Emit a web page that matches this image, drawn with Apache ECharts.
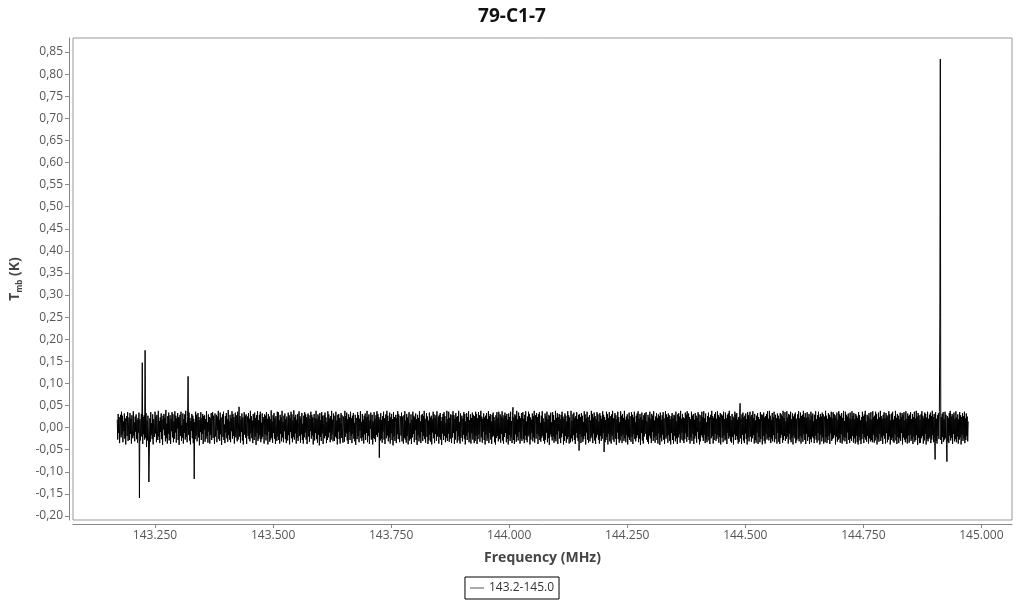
<!DOCTYPE html>
<html><head><meta charset="utf-8">
<script src="https://cdn.jsdelivr.net/npm/echarts@6/dist/echarts.min.js"></script>
<style>html,body{margin:0;padding:0;background:#fff}#c{width:1024px;height:600px}</style>
</head><body><div id="c"></div><script>
const chartTitle = '79-C1-7';
const seriesName = '143.2-145.0';
const xAxisName = 'Frequency (MHz)';
// channel grid of the spectrum
const freqStartMHz = 143.170;
const channelWidthMHz = 0.001;
// Tmb per channel, in mK
const tmbMilliK = [
18,-27,31,-12,24,-35,9,29,-22,36,-16,27,-33,14,-8,32,-25,21,-38,11,
26,-19,35,-30,6,23,-28,33,-14,20,-36,28,-5,-24,37,-18,12,-31,25,-9,
30,-26,17,-34,22,-11,34,-159,19,-29,8,31,-20,147,-37,24,-15,28,-27,175,
-23,33,-44,16,-29,27,-12,-123,-55,21,-32,35,-17,10,-26,30,-38,19,4,-21,
36,-13,25,-33,29,-7,-28,38,-20,15,-35,23,-10,32,-26,18,-39,27,-4,31,
-17,22,-31,40,-24,9,-36,26,-14,34,-29,13,28,-37,20,-8,35,-22,30,-33,
14,-25,37,-11,27,-34,21,-2,33,-28,24,-39,17,29,-19,36,-30,6,-23,32,
-36,19,-12,30,-27,38,-21,11,-33,25,116,-16,34,-29,22,-38,15,-7,31,-24,
27,-35,20,-116,13,-26,36,-18,29,-31,8,33,-22,24,-40,17,-10,35,-28,21,
-14,31,-37,26,-5,28,-32,19,-25,37,-19,12,-34,30,-9,24,-36,22,-17,33,
-28,16,35,-23,27,-13,-37,32,-20,10,29,-33,25,-6,38,-26,18,-30,34,-15,
23,-39,12,30,-21,36,-28,7,-35,26,-11,33,-24,19,-32,40,-17,14,-27,29,
-33,21,-8,37,-25,31,-19,24,-36,15,34,-22,28,-14,-31,36,-27,11,47,-20,
26,-34,18,-10,32,-29,23,-38,13,35,-16,27,-23,30,-37,9,25,-19,33,-26,
20,-31,38,-13,26,-24,16,-35,31,-7,-28,34,-20,22,-39,28,-12,37,-30,17,
-25,29,-17,36,-33,11,-26,32,-21,24,6,-36,30,-15,27,-29,35,-18,20,-38,
31,-9,25,-32,19,-27,39,-23,14,-34,28,-12,33,-25,21,-37,26,4,-30,36,
-20,35,-28,17,-36,29,-14,23,-31,38,-22,13,-33,27,-8,32,-26,19,-35,25,
11,-29,34,-17,28,-38,22,-10,36,-24,30,-33,16,-21,39,-27,24,-13,29,-36,
18,-23,31,-30,12,37,-19,26,-34,21,-15,33,-28,9,-36,27,-22,35,-11,30,
-27,24,-37,15,32,-20,28,-32,20,-8,36,-25,29,-18,23,-38,14,31,-29,22,
-12,38,-26,19,-34,30,-16,25,-40,33,-21,17,-30,35,-13,27,-37,10,28,-24,
34,-19,23,-35,13,-28,37,-22,30,-11,21,-33,26,-27,38,-15,18,-31,32,-6,
-30,27,-20,36,-24,16,-38,29,-9,31,-26,22,-36,12,33,-23,28,-17,-34,25,
15,-32,38,-21,26,-13,34,-29,19,-37,30,-10,24,-28,36,-18,21,-35,27,-14,
33,-25,11,-31,29,-39,22,17,-26,35,-19,28,-33,20,-7,37,-24,13,-30,31,
-22,18,-36,27,-15,32,-28,23,-12,38,-33,25,-18,30,-37,16,-3,34,-27,21,
29,-38,14,-23,35,-26,20,-32,28,-16,37,-21,31,-11,24,-68,19,-29,33,-25,
17,-34,26,-9,36,-27,21,-37,13,30,-24,38,-18,27,-31,15,-22,34,-36,23,
-13,31,-28,19,-40,35,-20,24,-30,12,29,-35,22,-15,37,-26,30,-8,-33,26,
21,-18,34,-31,25,-12,-36,28,-23,37,-27,16,-34,31,-19,23,-38,20,35,-29,
10,-25,30,-37,18,-22,36,-14,27,-33,24,-6,32,-28,19,-39,29,-17,22,-31,
37,-23,14,-35,28,-10,31,-30,26,-19,38,-26,20,-34,12,33,-21,25,-37,16,
-29,34,-16,23,-32,27,-38,19,-11,36,-24,30,-35,22,-14,28,-30,37,-20,9,
25,-36,29,-21,33,-27,15,-39,24,-13,31,-28,35,-18,26,-33,11,-23,38,-30,
19,-14,36,-32,22,-25,30,-17,-35,29,-22,37,-12,28,-37,20,-27,33,-8,24,
-34,26,-20,38,-29,13,-36,32,-23,18,27,-31,21,-16,35,-26,31,-38,14,-19,
33,-28,24,-11,37,-33,17,-24,30,-36,22,-13,34,-27,29,-20,-35,26,-30,36,
-18,31,-37,21,-26,35,-15,28,-32,12,38,-22,25,-34,20,-9,32,-28,23,-38,
27,-16,33,-30,19,-24,37,-35,26,-12,31,-27,14,-37,29,-21,34,-18,24,-33,
16,-38,28,-23,35,-19,22,-31,36,-26,13,30,-34,25,-14,37,-29,21,-36,28,
-21,34,-12,26,-33,31,-25,18,-38,32,-17,24,-30,36,-22,15,-35,27,46,-28,
23,-37,30,-15,27,-32,38,-21,19,-29,34,-10,26,-36,21,-24,33,-30,12,35,
-26,20,-35,29,-18,37,-28,14,-33,25,-20,36,-16,31,-38,23,-27,18,-12,32,
-31,26,-22,38,-34,17,28,-25,33,-14,24,-37,30,-19,35,-28,11,-32,27,-23,
37,-18,21,-30,13,-36,32,-27,25,-11,36,-33,19,-24,29,-39,26,-15,34,-21,
12,-29,35,-20,28,-34,17,-26,38,-31,22,-16,33,-37,24,-8,31,-25,19,-35,
29,-22,36,-13,25,-38,20,-30,32,-19,27,-34,14,-26,37,-21,28,-36,23,-10,
-33,38,-24,16,-31,30,-17,34,-28,22,-37,26,-12,35,-23,19,-30,29,-52,31,
-15,24,-35,33,-21,27,-32,13,-26,37,-19,30,-38,21,-11,36,-27,24,-34,18,
28,-31,16,-24,38,-20,31,-35,23,-13,34,-29,26,-37,19,-22,35,-16,30,-27,
14,-36,33,-19,27,-30,20,-25,37,-12,29,-55,24,-33,17,-28,36,-21,31,-38,
22,-14,35,-31,26,-23,-36,30,-18,38,-27,21,-32,15,33,-25,28,-39,19,-11,
36,-26,24,-34,12,-29,37,-20,27,-35,31,-16,22,-30,38,-24,18,-33,25,-17,
30,-38,19,-22,34,-28,26,-13,-32,35,-21,29,-37,23,-15,36,-26,13,-31,27,
-23,32,-17,37,-33,20,-25,31,-39,24,-12,34,-29,18,-36,28,-20,33,-14,26,
35,-27,14,-32,29,-37,23,-18,36,-24,20,-35,31,-10,27,-30,37,-22,16,-34,
25,-19,33,-28,22,-36,30,-13,26,-39,34,-23,18,-31,28,-16,35,-27,21,-37,
13,37,-25,30,-20,24,-34,32,-17,28,-30,19,-38,26,-12,33,-28,21,-36,29,
-18,27,-31,36,-24,15,-37,30,-22,33,-15,25,-34,38,-27,20,-11,31,-29,23,
-35,21,-26,34,-13,29,-32,37,-21,16,32,-28,24,-36,19,-23,36,-30,27,-14,
31,-37,18,-25,33,-19,27,-34,22,-9,35,-26,30,-38,14,-31,28,-17,36,-22,
24,-30,37,-16,21,-35,32,-27,12,-33,26,-20,34,-29,23,-37,17,29,-24,38,
-19,26,-36,22,-28,31,-14,35,-30,20,-25,37,-17,28,-34,24,-21,33,-38,15,
30,-23,27,-33,36,-18,19,-29,34,-26,21,-37,29,-12,32,-25,38,-20,26,-31,
17,-34,31,-21,25,-38,22,-15,36,-28,30,-19,33,-27,18,-36,24,-32,28,55,
-24,20,-37,30,-16,34,-29,23,-35,27,-13,32,-26,19,-38,35,-22,28,-31,13,
36,-20,25,-32,29,-24,37,-17,22,-36,31,-28,16,-34,27,-11,33,-37,24,-21,
19,-33,35,-26,12,30,-38,28,-19,34,-30,23,-36,26,-14,31,-27,37,-23,20,
-29,38,-21,27,-35,18,-25,33,-31,24,-17,36,-33,15,29,-26,21,-36,32,-12,
27,-32,20,-37,33,-23,30,-16,26,-34,38,-28,22,-19,35,-30,14,-25,37,-20,
23,-36,31,-14,28,-27,36,-33,19,-22,32,-38,25,-18,30,-24,34,-35,20,-29,
16,30,-25,37,-31,21,-19,34,-36,26,-23,29,-32,38,-15,24,-28,33,-37,22,
-14,35,-30,24,-21,31,-37,18,-26,36,-33,27,-20,32,-24,15,-35,29,-18,37,
-27,19,-34,28,-12,36,-29,23,-38,31,-16,25,-31,34,-22,30,-36,17,25,-33,
38,-22,27,-35,20,-28,33,-19,29,-37,24,-13,36,-30,21,-26,35,-23,31,-17,
28,-38,23,-20,34,-32,18,-27,37,-24,30,-34,26,-15,33,-36,22,-29,38,-21,
15,-31,36,-23,29,-37,25,-11,32,-28,21,-35,34,-25,19,-30,37,-19,27,-34,
33,-24,19,-36,31,-18,27,-33,22,-38,35,-21,28,-29,16,-37,24,-26,36,-14,
26,-35,30,-22,38,-27,14,-32,29,-19,25,-36,33,-24,20,-31,35,-28,18,-33,
37,-16,24,-34,27,-29,36,-21,31,-38,19,-26,34,-32,23,-14,38,-30,26,-22,
20,-37,29,-18,35,-25,21,-36,33,-12,28,-33,25,-27,37,-20,30,-38,17,-28,
32,-23,36,-31,18,-34,26,-15,38,-29,22,-37,31,-21,27,-35,19,-24,34,-30,
24,-12,33,-38,28,-22,35,-27,16,-33,37,-25,20,-36,32,-18,26,-34,29,-16,
35,-30,19,-26,31,-37,24,-20,36,-32,21,-28,38,-17,25,-39,33,-23,28,-35,
18,-34,30,-24,37,-19,27,-36,22,-29,34,-14,31,-38,23,-26,36,-31,20,-25,
29,-21,34,-35,26,-27,38,-17,24,-33,31,-25,-72,35,-30,20,-36,28,-19,33,
-26,37,250,834,-28,24,-37,31,-21,35,-32,19,-27,36,-24,29,-38,-77,26,-31,
22,-35,33,-18,38,-29,25,-23,31,-37,27,-14,34,-31,20,-26,37,-33,23,-20,
30,-36,19,-27,35,-22,28,-38,24,-16,33,-30,26,-24,36,-35,21,-28,32,-19,
25,-31,14
];
const xTickValues = [143.25, 143.50, 143.75, 144.00, 144.25, 144.50, 144.75, 145.00];
const yTickValues = [-0.20,-0.15,-0.10,-0.05,0.00,0.05,0.10,0.15,0.20,0.25,0.30,0.35,0.40,0.45,0.50,0.55,0.60,0.65,0.70,0.75,0.80,0.85];

const seriesData = tmbMilliK.map((v, i) => [freqStartMHz + i * channelWidthMHz, v / 1000]);
const FONT = 'Open Sans';
const chart = echarts.init(document.getElementById('c'), null, {renderer: 'canvas'});
chart.setOption({
  animation: false,
  backgroundColor: '#fff',
  title: {
    text: chartTitle, left: 'center', top: 2,
    textStyle: {fontFamily: FONT, fontWeight: 'bold', fontSize: 19, color: '#111'}
  },
  legend: {
    data: [seriesName], bottom: 1, left: 'center',
    borderColor: '#000', borderWidth: 1, padding: [5, 5, 5, 5],
    icon: 'rect', itemWidth: 14, itemHeight: 1,
    itemStyle: {color: '#555'},
    textStyle: {fontFamily: FONT, fontSize: 12, color: '#333'}
  },
  grid: {
    left: 73, right: 12, top: 38, bottom: 80,
    show: true, borderColor: '#999', borderWidth: 1,
    containLabel: false, outerBoundsMode: 'none'
  },
  xAxis: {
    type: 'value', min: 143.0763, max: 145.0648, offset: 4,
    name: xAxisName, nameLocation: 'middle', nameGap: 27,
    nameTextStyle: {fontFamily: FONT, fontWeight: 'bold', fontSize: 14, color: '#444'},
    axisLine: {show: true, onZero: false, lineStyle: {color: '#888'}},
    axisTick: {show: true, length: 4, customValues: xTickValues, lineStyle: {color: '#888'}},
    axisLabel: {customValues: xTickValues, formatter: v => v.toFixed(3), margin: 6,
      fontFamily: FONT, fontSize: 12, color: '#555'},
    splitLine: {show: false}
  },
  yAxis: {
    type: 'value', min: -0.209, max: 0.8817, offset: 4,
    name: '{t|T}{s|mb}{k| (K)}', nameLocation: 'middle', nameGap: 32, nameRotate: 90,
    nameTextStyle: {
      rich: {
        t: {fontFamily: FONT, fontWeight: 'bold', fontSize: 14, color: '#444', lineHeight: 20, verticalAlign: 'middle'},
        s: {fontFamily: FONT, fontWeight: 'bold', fontSize: 8, color: '#444', height: 9, lineHeight: 9, verticalAlign: 'bottom'},
        k: {fontFamily: FONT, fontWeight: 'bold', fontSize: 14, color: '#444', lineHeight: 20, verticalAlign: 'middle'}
      }
    },
    axisLine: {show: true, onZero: false, lineStyle: {color: '#888'}},
    axisTick: {show: true, length: 4, customValues: yTickValues, lineStyle: {color: '#888'}},
    axisLabel: {customValues: yTickValues, formatter: v => v.toFixed(2).replace('.', ','), margin: 6,
      fontFamily: FONT, fontSize: 12, color: '#555'},
    splitLine: {show: false}
  },
  series: [{
    name: seriesName, type: 'line', data: seriesData,
    showSymbol: false, symbol: 'none', sampling: null,
    lineStyle: {color: '#000', width: 1}, itemStyle: {color: '#000'},
    emphasis: {disabled: true}
  }]
});
</script></body></html>
